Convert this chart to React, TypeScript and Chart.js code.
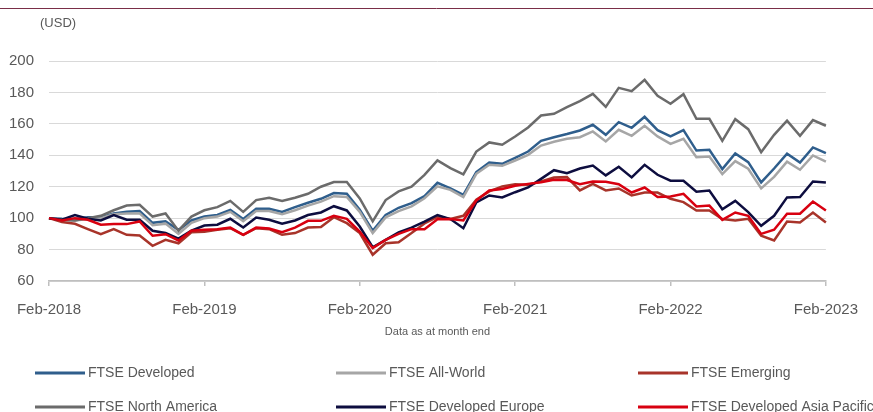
import React, { useEffect, useRef } from "react";
import { Chart, registerables } from "chart.js";

Chart.register(...registerables);

const MONTH_NAMES = ["Jan", "Feb", "Mar", "Apr", "May", "Jun", "Jul", "Aug", "Sep", "Oct", "Nov", "Dec"];
const START_YEAR = 2018;
const N_POINTS = 61; // Feb-2018 .. Feb-2023 month ends
const categories: string[] = Array.from({ length: N_POINTS }, (_, i) => {
  const m = (1 + i) % 12;
  const y = START_YEAR + Math.floor((1 + i) / 12);
  return `${MONTH_NAMES[m]}-${y}`;
});
const tickLabels = ["Feb-2018", "Feb-2019", "Feb-2020", "Feb-2021", "Feb-2022", "Feb-2023"];
const yTicks = { min: 60, max: 200, step: 20 };
const yUnit = "(USD)";
const footnote = "Data as at month end";

const seriesNames = [
  "FTSE Developed",
  "FTSE All-World",
  "FTSE Emerging",
  "FTSE North America",
  "FTSE Developed Europe",
  "FTSE Developed Asia Pacific",
];
const seriesColors = ["#2F5E8C", "#A6A6A6", "#A8342A", "#6B6B6B", "#0D0D3F", "#D80010"];

const developed = [
  100, 99.6, 99.5, 100.5, 100.5, 103, 104, 104.5, 97, 98, 92.5, 98.5, 101, 102, 105.3, 99.4, 106, 106, 104, 107,
  109.8, 112.3, 116, 115.5, 105.3, 92, 102, 106.6, 109.5, 114, 122.5,
  119, 114.8, 129.3, 135.4, 134.6, 138.4, 142.4, 149.2, 151.5, 153.5, 155.8, 159.4, 153, 161.1, 157.5, 164.5, 156,
  152, 156, 143, 143.5, 131.2, 141.2, 135.6, 122.7, 131.6, 141, 135.4, 145, 141.4,
];
const allWorld = [
  100, 99, 98.5, 99.5, 100, 102.5, 103, 103, 95.5, 96.5, 90, 97, 100, 101, 104, 98, 104.5, 104.5, 102.5, 105, 108,
  110.5, 114, 113.5, 104, 90.5, 100.5, 104.5, 107.5, 112.7, 120.2,
  118, 113.4, 128.2, 134, 133.3, 136.7, 140.3, 146.2, 148.6, 150.5, 151.5, 155.2, 148.8, 156.2, 152.4, 158.8, 152,
  147.3, 150.5, 138.8, 139.2, 128, 136.3, 131.4, 118.9, 126.3, 135.9, 130.8, 139.9, 136,
];
const emerging = [
  100, 97.5, 96.4, 93, 89.8, 93, 89.4, 89, 82.4, 86.2, 84, 91, 91.3, 92.6, 93.6, 89.4, 93.6, 93, 89.4, 90.5, 94,
  94.3, 100.6, 96.8, 90.5, 76.7, 84, 84.7, 90.5, 96.6, 100.8,
  99.4, 101.5, 111.7, 117, 120.2, 121.6, 121.2, 123.3, 125.9, 126.1, 117.6, 121.8, 117.6, 118.9, 114.4, 116.3,
  116.3, 112.3, 110.2, 104.9, 104.9, 99.4, 98.5, 99.6, 88.8, 85.8, 97.9, 97.2, 103.6, 97.2,
];
const northAmerica = [
  100, 99, 98.5, 100, 101.5, 105, 108, 108.5, 101, 103, 92, 101, 105, 107, 111, 104, 111.5, 113, 111, 113, 115.5,
  120, 123, 123, 112.5, 98, 111.5, 117, 120, 127.5, 136.7,
  131.8, 127.8, 142.4, 148.2, 146.7, 152, 157.7, 165.3, 166.4, 170.6, 174.5, 179.1, 170.8, 182.9, 180.8, 188,
  177.9, 172.8, 178.9, 163.2, 163.2, 149.2, 163, 156.6, 142, 153, 162, 152.4, 162.4, 158.8,
];
const europe = [
  100, 99, 102, 99.6, 98.5, 102, 99, 99, 92, 90.5, 87, 92, 95.3, 95.8, 99.6, 94, 100.4, 99, 96.4, 98.5, 102, 103.6,
  107.6, 104.9, 94.7, 81.5, 86.2, 91, 94, 97.8, 102,
  99.4, 93.6, 110, 114.4, 113.2, 116.5, 119.5, 125, 130.5, 128.6, 131.6, 133.5, 127.2, 132.7, 125.9, 133.9, 127.6,
  123.8, 123.8, 116.8, 117.6, 105.7, 111, 103.8, 95.1, 101.5, 113.2, 113.4, 123.3, 122.7,
];
const asiaPacific = [
  100, 98.5, 100, 99, 95.8, 96.2, 96.2, 97.9, 88.8, 89.8, 85.8, 92, 92.6, 93, 94, 89.4, 94, 93.4, 91, 94, 98.3,
  98.3, 101.5, 99.6, 91.5, 80.9, 86.2, 90, 93, 93, 99.3,
  99.4, 98.5, 111.2, 117.6, 118.5, 120.6, 121.8, 122.9, 124.4, 124.2, 121.6, 123.3, 123.1, 121.6, 116.3, 119.5,
  113.4, 113.8, 115.5, 107.4, 108, 98.9, 103.6, 101.5, 90, 92.6, 102.8, 102.8, 110.6, 104.9,
];
const seriesValues = [developed, allWorld, emerging, northAmerica, europe, asiaPacific];

const FONT = "'Liberation Sans', Arial, Helvetica, sans-serif";
const TEXT = "#595959";

const extrasPlugin = {
  id: "extras",
  afterDraw(chart: any) {
    const ctx = chart.ctx as CanvasRenderingContext2D;
    const area = chart.chartArea;
    ctx.save();
    // top rule
    ctx.strokeStyle = "#7A2E47";
    ctx.lineWidth = 1;
    ctx.beginPath();
    ctx.moveTo(0, 8.5);
    ctx.lineTo(chart.width, 8.5);
    ctx.stroke();

    // unit label
    ctx.fillStyle = TEXT;
    ctx.font = `13px ${FONT}`;
    ctx.textAlign = "left";
    ctx.textBaseline = "middle";
    ctx.fillText(yUnit, 40, 23);

    // footnote
    ctx.font = `11px ${FONT}`;
    ctx.textAlign = "center";
    ctx.fillText(footnote, (area.left + area.right) / 2, 332);

    // legend
    const colStart = [35, 336, 638];
    const rowY = [373, 407];
    chart.data.datasets.forEach((ds: any, i: number) => {
      const col = i % 3;
      const row = Math.floor(i / 3);
      const x0 = colStart[col];
      const y = rowY[row];
      ctx.strokeStyle = ds.borderColor;
      ctx.lineWidth = 3;
      ctx.beginPath();
      ctx.moveTo(x0, y);
      ctx.lineTo(x0 + 50, y);
      ctx.stroke();
      ctx.fillStyle = TEXT;
      ctx.font = `14px ${FONT}`;
      ctx.textAlign = "left";
      ctx.textBaseline = "middle";
      ctx.fillText(ds.label, x0 + 53, y);
    });
    ctx.restore();
  },
};

export default function App() {
  const canvasRef = useRef<HTMLCanvasElement | null>(null);

  useEffect(() => {
    document.body.style.margin = "0";
    const canvas = canvasRef.current;
    if (!canvas) return;
    const chart = new Chart(canvas, {
      type: "line",
      data: {
        labels: categories,
        datasets: seriesNames.map((name, i) => ({
          label: name,
          data: seriesValues[i],
          borderColor: seriesColors[i],
          backgroundColor: seriesColors[i],
          borderWidth: 2.5,
          pointRadius: 0,
          tension: 0,
          order: seriesNames.length - i,
        })),
      },
      options: {
        animation: false,
        responsive: false,
        maintainAspectRatio: false,
        layout: { padding: { left: 0, right: 36, top: 61, bottom: 0 } },
        plugins: {
          legend: { display: false },
          tooltip: { enabled: false },
        },
        scales: {
          x: {
            type: "category",
            offset: false,
            afterFit(scale: any) {
              scale.height = 131;
            },
            border: { display: true, color: "#BFBFBF", width: 1.5 },
            grid: {
              display: true,
              drawOnChartArea: false,
              drawTicks: true,
              tickLength: 5,
              color: (c: any) => (tickLabels.includes(categories[c.index]) ? "#BFBFBF" : "rgba(0,0,0,0)"),
              lineWidth: 1.5,
            },
            ticks: {
              autoSkip: false,
              maxRotation: 0,
              minRotation: 0,
              padding: 15,
              color: TEXT,
              font: { family: FONT, size: 15 },
              callback: (_v: any, idx: number) => (tickLabels.includes(categories[idx]) ? categories[idx] : ""),
            },
          },
          y: {
            min: yTicks.min,
            max: yTicks.max,
            afterFit(scale: any) {
              scale.width = 49;
            },
            border: { display: false },
            grid: { color: "#D9D9D9", lineWidth: 1, drawTicks: false },
            ticks: {
              stepSize: yTicks.step,
              padding: 15,
              color: TEXT,
              font: { family: FONT, size: 15 },
            },
          },
        },
      },
      plugins: [extrasPlugin],
    });
    return () => chart.destroy();
  }, []);

  return (
    <div style={{ width: 873, height: 412, position: "relative", background: "#fff" }}>
      <canvas ref={canvasRef} width={873} height={412} style={{ display: "block", width: 873, height: 412 }} />
    </div>
  );
}
